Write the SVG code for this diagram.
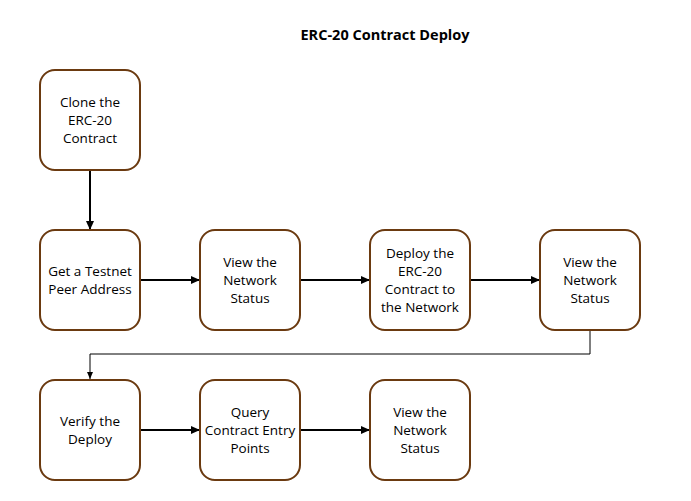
<svg xmlns="http://www.w3.org/2000/svg" width="691" height="501" viewBox="0 0 691 501">
<style>
.n rect{fill:#fff;stroke:#6b3a10;stroke-width:2}
text{font-family:"Open Sans","Liberation Sans",sans-serif;font-size:13.5px;fill:#000;text-anchor:middle}
.c{stroke:#000;stroke-width:2;fill:none}
</style>
<defs>
<marker id="a" markerWidth="10" markerHeight="10" refX="8" refY="5" orient="auto" markerUnits="userSpaceOnUse"><path d="M0,1 L9,5 L0,9 Z" fill="#000"/></marker>
<marker id="b" markerWidth="8" markerHeight="8" refX="7" refY="4" orient="auto" markerUnits="userSpaceOnUse"><path d="M0,1 L7,4 L0,7 Z" fill="#000"/></marker>
</defs>
<rect width="691" height="501" fill="#fff"/>
<text x="385" y="40" style="font-weight:bold;font-size:14.5px">ERC-20 Contract Deploy</text>
<g id="connectors">
<path class="c" d="M90,170 V229" marker-end="url(#a)"/>
<path class="c" d="M140,280 H199" marker-end="url(#a)"/>
<path class="c" d="M300,280 H369" marker-end="url(#a)"/>
<path class="c" d="M470,280 H539" marker-end="url(#a)"/>
<path d="M590,330 V354 H90 V379" stroke="#000" stroke-width="1" fill="none" marker-end="url(#b)"/>
<path class="c" d="M140,430 H199" marker-end="url(#a)"/>
<path class="c" d="M300,430 H369" marker-end="url(#a)"/>
</g>
<g id="n1" class="n"><rect x="40" y="70" width="100" height="100" rx="15"/><text x="90" y="107">Clone the</text><text x="90" y="125">ERC-20</text><text x="90" y="143">Contract</text></g>
<g id="n2" class="n"><rect x="40" y="230" width="100" height="100" rx="15"/><text x="90" y="276">Get a Testnet</text><text x="90" y="294">Peer Address</text></g>
<g id="n3" class="n"><rect x="200" y="230" width="100" height="100" rx="15"/><text x="250" y="267">View the</text><text x="250" y="285">Network</text><text x="250" y="303">Status</text></g>
<g id="n4" class="n"><rect x="370" y="230" width="100" height="100" rx="15"/><text x="420" y="258">Deploy the</text><text x="420" y="276">ERC-20</text><text x="420" y="294">Contract to</text><text x="420" y="312">the Network</text></g>
<g id="n5" class="n"><rect x="540" y="230" width="100" height="100" rx="15"/><text x="590" y="267">View the</text><text x="590" y="285">Network</text><text x="590" y="303">Status</text></g>
<g id="n6" class="n"><rect x="40" y="380" width="100" height="100" rx="15"/><text x="90" y="426">Verify the</text><text x="90" y="444">Deploy</text></g>
<g id="n7" class="n"><rect x="200" y="380" width="100" height="100" rx="15"/><text x="250" y="417">Query</text><text x="250" y="435">Contract Entry</text><text x="250" y="453">Points</text></g>
<g id="n8" class="n"><rect x="370" y="380" width="100" height="100" rx="15"/><text x="420" y="417">View the</text><text x="420" y="435">Network</text><text x="420" y="453">Status</text></g>
</svg>
